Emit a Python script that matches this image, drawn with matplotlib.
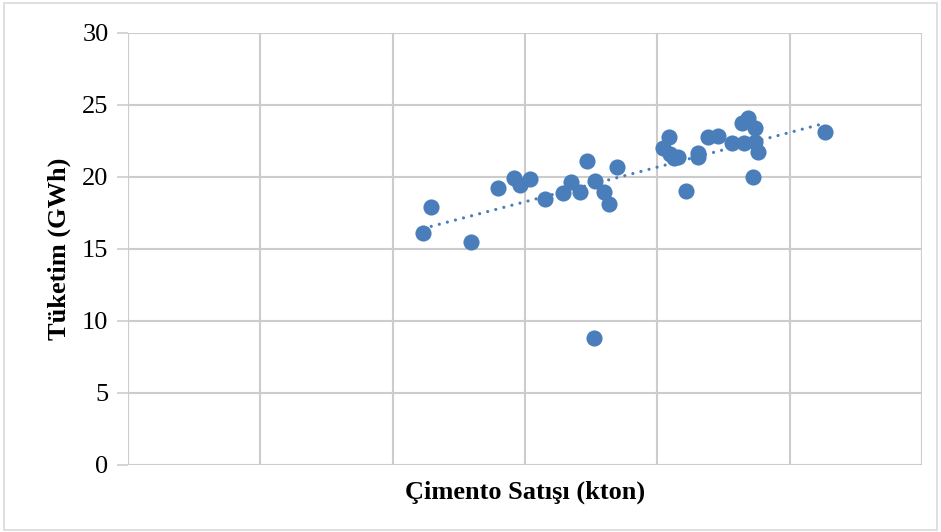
import numpy as np
import matplotlib.pyplot as plt
from matplotlib.patches import Rectangle

plt.rcParams['font.family'] = ['Liberation Serif', 'DejaVu Serif']

# Cement sales (kton) vs consumption (GWh)
cimento = [223, 229, 259.3, 279.7, 291.8, 296.3, 303.5, 315.2, 328.8, 334.8,
           341.6, 346.9, 353, 359.8, 363.6, 369.6, 352.2,
           404.4, 408.9, 409.5, 412.5, 415.7, 421.8, 430.8, 430.8,
           438.4, 446, 456.5, 465.6, 464, 468.6, 473.9, 473.9, 476.2, 472.4, 526.8]
tuketim = [16.1, 17.9, 15.5, 19.25, 19.9, 19.45, 19.85, 18.5, 18.9, 19.65,
           18.96, 21.1, 19.7, 18.96, 18.1, 20.7, 8.8,
           22.0, 22.8, 21.6, 21.35, 21.4, 19.0, 21.65, 21.4,
           22.8, 22.85, 22.35, 22.35, 23.75, 24.1, 23.4, 22.4, 21.7, 20.0, 23.1]

blue = '#4a7ebb'
grid_col = '#cccccc'

fig = plt.figure(figsize=(9.41, 5.32), dpi=100)
fig.patches.append(Rectangle((0.004, 0.004), 0.992, 0.99, transform=fig.transFigure,
                             fill=False, edgecolor='#d9d9d9', linewidth=1.2))
ax = fig.add_axes([0.136, 0.126, 0.844, 0.812])

ax.scatter(cimento, tuketim, s=135, color=blue, zorder=3, linewidths=0)

# linear trendline
k, b = np.polyfit(cimento, tuketim, 1)
xs = np.array([min(cimento), max(cimento)])
ax.plot(xs, k * xs + b, color=blue, linewidth=2.3,
        linestyle=(0, (0.01, 2.6)), dash_capstyle='round', zorder=2)

ax.set_xlim(0, 600)
ax.set_ylim(0, 30)
ax.set_xticks(np.arange(0, 601, 100))
ax.set_yticks(np.arange(0, 31, 5))
ax.set_xticklabels([])
ax.grid(True, color=grid_col, linewidth=1.5)
ax.set_axisbelow(True)
for s in ax.spines.values():
    s.set_visible(False)
ax.tick_params(axis='x', length=0)
ax.tick_params(axis='y', length=8, width=1.2, color=grid_col, labelsize=19, pad=6)

ax.set_xlabel('Çimento Satışı (kton)', fontsize=19, fontweight='bold', labelpad=8)
ax.set_ylabel('Tüketim (GWh)', fontsize=19, fontweight='bold', labelpad=8)

fig.savefig('out.png', dpi=100)
